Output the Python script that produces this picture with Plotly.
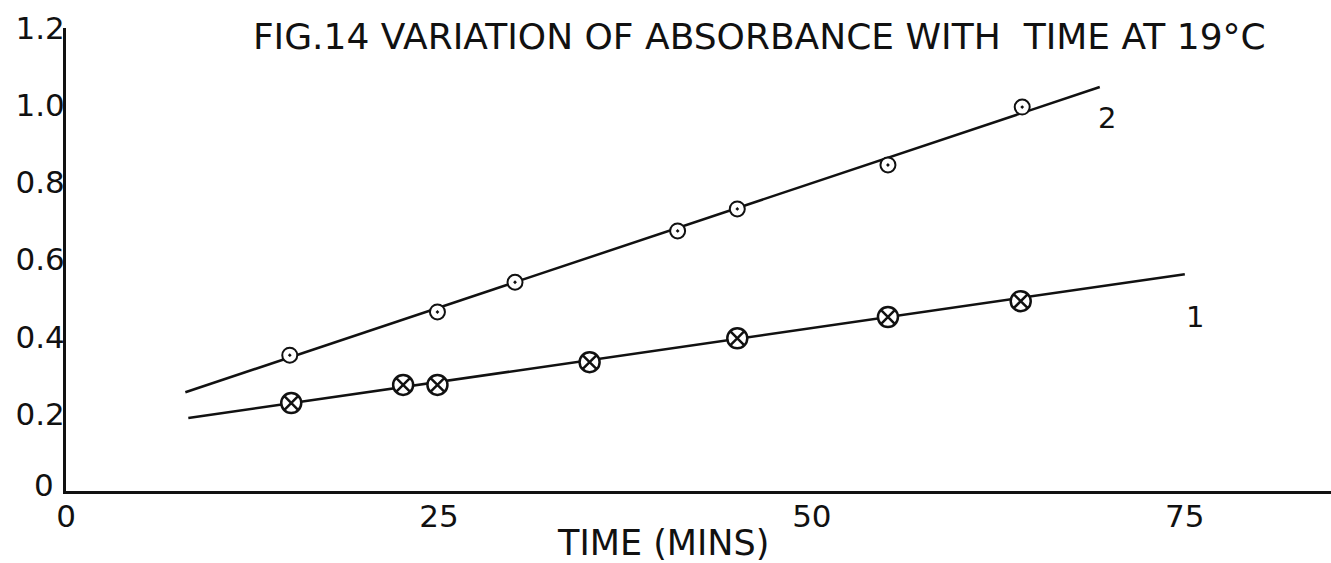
import plotly.graph_objects as go

# Curve 2: absorbance readings (open circle with centre dot)
time_2 = [15.0, 24.9, 30.1, 41.0, 45.0, 55.1, 64.1]
abs_2 = [0.352, 0.464, 0.541, 0.674, 0.731, 0.845, 0.995]
# fitted straight line for curve 2 (end points)
fit_2_t = [8.0, 69.3]
fit_2_a = [0.256, 1.047]

# Curve 1: absorbance readings (circle with cross)
time_1 = [15.1, 22.6, 24.9, 35.1, 45.0, 55.1, 64.0]
abs_1 = [0.228, 0.275, 0.275, 0.334, 0.396, 0.451, 0.492]
# fitted straight line for curve 1 (end points)
fit_1_t = [8.2, 75.0]
fit_1_a = [0.189, 0.562]

x_ticks = [0, 25, 50, 75]
x_tick_text = ["0", "25", "50", "75"]
# the origin "0" of the absorbance axis is placed on its own, up-left of the x "0"
y_ticks = [0.2, 0.4, 0.6, 0.8, 1.0, 1.2]
y_tick_text = ["0.2", "0.4", "0.6", "0.8", "1.0", "1.2"]

FONT = "DejaVu Sans"
INK = "#111111"

fig = go.Figure()

fig.add_trace(go.Scatter(x=fit_2_t, y=fit_2_a, mode="lines",
                         line=dict(color=INK, width=2.5), hoverinfo="skip"))
fig.add_trace(go.Scatter(x=fit_1_t, y=fit_1_a, mode="lines",
                         line=dict(color=INK, width=2.5), hoverinfo="skip"))
fig.add_trace(go.Scatter(x=time_2, y=abs_2, mode="markers",
                         marker=dict(symbol="circle-dot", size=15, color="white",
                                     line=dict(color=INK, width=2))))
fig.add_trace(go.Scatter(x=time_1, y=abs_1, mode="markers",
                         marker=dict(symbol="circle-x", size=20, color="white",
                                     line=dict(color=INK, width=2.5))))

# curve numbers
fig.add_annotation(x=69.8, y=0.968, text="2", showarrow=False,
                   font=dict(family=FONT, size=29, color=INK))
fig.add_annotation(x=75.7, y=0.45, text="1", showarrow=False,
                   font=dict(family=FONT, size=29, color=INK))

# absorbance-axis origin label
fig.add_annotation(xref="paper", yref="y", x=(44 - 66) / (1331 - 66), y=0.016,
                   text="0", showarrow=False, xanchor="center", yanchor="middle",
                   font=dict(family=FONT, size=31, color=INK))

# x-axis caption
fig.add_annotation(xref="paper", yref="paper", x=(663 - 66) / (1331 - 66),
                   y=-0.112, yanchor="middle", text="TIME (MINS)", showarrow=False,
                   font=dict(family=FONT, size=35, color=INK))

fig.update_layout(
    width=1331, height=563,
    margin=dict(l=66, r=0, t=28, b=72),
    paper_bgcolor="white", plot_bgcolor="white",
    showlegend=False,
    title=dict(text="FIG.14 VARIATION OF ABSORBANCE WITH  TIME AT 19°C",
               x=0.19, xanchor="left", y=0.935, yanchor="middle",
               font=dict(family=FONT, size=36, color=INK)),
    xaxis=dict(range=[0, 84.8], tickvals=x_ticks, ticktext=x_tick_text,
               showgrid=False, zeroline=False, showline=True, linecolor=INK,
               linewidth=3, ticks="", ticklabelstandoff=-4,
               tickfont=dict(family=FONT, size=31, color=INK)),
    yaxis=dict(range=[0, 1.2], tickvals=y_ticks, ticktext=y_tick_text,
               showgrid=False, zeroline=False, showline=True, linecolor=INK,
               linewidth=3, ticks="", ticklabelstandoff=-8,
               tickfont=dict(family=FONT, size=31, color=INK)),
)

fig.write_html("out.html")
